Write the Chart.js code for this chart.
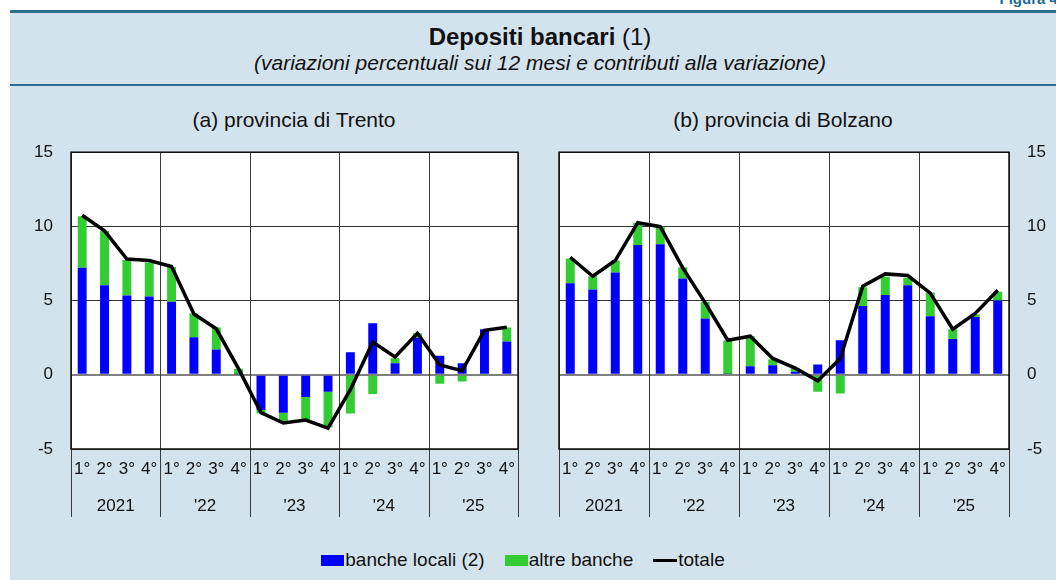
<!DOCTYPE html>
<html>
<head>
<meta charset="utf-8">
<script src="https://cdn.jsdelivr.net/npm/chart.js@4.4.1/dist/chart.umd.min.js"></script>
<style>
  html, body { margin:0; padding:0; }
  body { width:1056px; height:580px; position:relative; overflow:hidden; background:#fff;
         font-family:"Liberation Sans", Arial, sans-serif; color:#111; }
  .abs { position:absolute; }
  #panel { left:10px; top:10px; width:1046px; height:570px; background:#d3e3ed; }
  .rule { left:10px; width:1046px; background:#2d6d8d; }
  #fig { right:-6px; top:-10px; font-weight:bold; font-size:15px; color:#1d6c98; }
  #title { left:0; width:1080px; top:23px; text-align:center; font-size:24px; line-height:28px; }
  #subtitle { left:0; width:1080px; top:51px; text-align:center; font-size:21px; line-height:24px; font-style:italic; }
  .ptitle { top:108px; font-size:21px; line-height:24px; text-align:center; width:400px; }
  #legend { left:0; width:1046px; top:549px; display:flex; justify-content:center; align-items:center; font-size:19px; }
  .sw { display:inline-block; width:23px; height:11px; margin-right:1px; }
  .ln { display:inline-block; width:24px; height:3px; background:#000; margin-right:1px; }
  .item { display:flex; align-items:center; margin:0 10px; }
</style>
</head>
<body>
<div id="panel" class="abs"></div>
<div class="abs rule" style="top:10px;height:3px;"></div>
<div class="abs rule" style="top:84px;height:2px;"></div>
<div id="fig" class="abs">Figura 4.</div>
<div id="title" class="abs"><b>Depositi bancari</b> (1)</div>
<div id="subtitle" class="abs">(variazioni percentuali sui 12 mesi e contributi alla variazione)</div>
<div class="abs ptitle" style="left:94px;">(a) provincia di Trento</div>
<div class="abs ptitle" style="left:583px;">(b) provincia di Bolzano</div>
<canvas id="c1" class="abs" style="left:20px;top:124px;" width="510" height="406"></canvas>
<canvas id="c2" class="abs" style="left:540px;top:124px;" width="516" height="406"></canvas>
<div id="legend" class="abs">
  <div class="item"><span class="sw" style="background:#0000ff"></span>banche locali (2)</div>
  <div class="item"><span class="sw" style="background:#33cc33"></span>altre banche</div>
  <div class="item"><span class="ln"></span>totale</div>
</div>
<script>
// ---- data ----
const quarters = ['1°','2°','3°','4°','1°','2°','3°','4°','1°','2°','3°','4°','1°','2°','3°','4°','1°','2°','3°','4°'];
const years = ['2021', "'22", "'23", "'24", "'25"];
const yTicks = [-5, 0, 5, 10, 15];

const trentoLocali = [7.22, 6.03, 5.34, 5.27, 4.93, 2.53, 1.70, 0.03, -2.38, -2.56, -1.50, -1.14, 1.52, 3.48, 0.78, 2.50, 1.28, 0.78, 3.07, 2.24];
const trentoAltre  = [3.46, 3.66, 2.40, 2.29, 2.34, 1.60, 1.48, 0.37, -0.22, -0.60, -1.60, -2.40, -2.60, -1.30, 0.34, 0.30, -0.60, -0.45, -0.08, 0.94];
const trentoTotale = [10.75, 9.70, 7.80, 7.70, 7.30, 4.10, 3.10, 0.40, -2.55, -3.25, -3.05, -3.60, -1.00, 2.20, 1.20, 2.80, 0.67, 0.27, 3.00, 3.20];

const bolzanoLocali = [6.17, 5.75, 6.89, 8.75, 8.79, 6.49, 3.80, 0.05, 0.58, 0.65, 0.20, 0.70, 2.33, 4.63, 5.37, 6.04, 3.94, 2.42, 3.89, 5.00];
const bolzanoAltre  = [1.66, 0.89, 0.81, 1.50, 1.19, 0.76, 1.10, 2.26, 2.02, 0.40, 0.25, -1.14, -1.26, 1.27, 1.23, 0.50, 1.61, 0.65, 0.18, 0.60];
const bolzanoTotale = [7.92, 6.64, 7.70, 10.25, 9.98, 7.20, 4.85, 2.33, 2.60, 1.10, 0.45, -0.40, 1.10, 5.97, 6.80, 6.69, 5.50, 3.07, 4.14, 5.70];

const BLUE = '#0000ff', GREEN = '#33cc33';
const FONT = "'Liberation Sans', Arial, sans-serif";
const CANVAS_TOP = 124;
const SEPARATOR_BOTTOM = 517; // page y where the year separators end

const framePlugin = {
  id: 'frame',
  beforeDraw(chart) {
    const a = chart.chartArea, c = chart.ctx;
    c.save(); c.fillStyle = '#ffffff';
    c.fillRect(a.left, a.top, a.right - a.left, a.bottom - a.top);
    c.restore();
  },
  beforeDatasetsDraw(chart) {
    const a = chart.chartArea, c = chart.ctx, xs = chart.scales.x;
    const n = xs.getLabels().length;
    const half = (xs.getPixelForValue(1) - xs.getPixelForValue(0)) / 2;
    const bottom = SEPARATOR_BOTTOM - CANVAS_TOP;
    c.save();
    c.strokeStyle = '#3a3a3a'; c.lineWidth = 1;
    for (let i = 0; i <= n; i += 4) {
      let x = (i < n) ? xs.getPixelForValue(i) - half : xs.getPixelForValue(n - 1) + half;
      x = Math.round(x) + 0.5;
      c.beginPath(); c.moveTo(x, a.top); c.lineTo(x, bottom); c.stroke();
    }
    c.strokeStyle = '#111'; c.lineWidth = 1.5;
    c.strokeRect(a.left, a.top, a.right - a.left, a.bottom - a.top);
    c.restore();
  }
};

function makeChart(id, locali, altre, totale, side) {
  const left = side === 'left';
  return new Chart(document.getElementById(id), {
    type: 'bar',
    data: {
      labels: quarters,
      datasets: [
        { type: 'line', label: 'totale', data: totale, borderColor: '#000', borderWidth: 3.5,
          pointRadius: 0, tension: 0, fill: false, stack: 'line', order: 0 },
        { label: 'banche locali (2)', data: locali, backgroundColor: BLUE, borderWidth: 0,
          stack: 'bars', order: 1, barPercentage: 0.4, categoryPercentage: 1 },
        { label: 'altre banche', data: altre, backgroundColor: GREEN, borderWidth: 0,
          stack: 'bars', order: 2, barPercentage: 0.4, categoryPercentage: 1 }
      ]
    },
    options: {
      responsive: false, animation: false, devicePixelRatio: 1,
      layout: { padding: left ? { left: 0, right: 12, top: 0, bottom: 0 } : { left: 19, right: 0, top: 0, bottom: 0 } },
      plugins: { legend: { display: false }, tooltip: { enabled: false } },
      scales: {
        x: {
          stacked: true, offset: true,
          grid: { display: false, drawTicks: false },
          border: { display: false },
          ticks: { autoSkip: false, maxRotation: 0, minRotation: 0, padding: 10,
                   color: '#111', font: { family: FONT, size: 17 } },
          afterFit(s) { s.height = 36; }
        },
        x2: {
          type: 'category', labels: years, position: 'bottom', offset: true,
          grid: { display: false, drawTicks: false },
          border: { display: false },
          ticks: { autoSkip: false, maxRotation: 0, padding: 11,
                   color: '#111', font: { family: FONT, size: 17 } },
          afterFit(s) { s.height = 45; }
        },
        y: {
          stacked: true, position: left ? 'left' : 'right',
          min: -5, max: 15,
          afterBuildTicks(s) { s.ticks = yTicks.map(v => ({ value: v })); },
          grid: {
            drawTicks: false,
            color: ctx => (ctx.tick && ctx.tick.value === 0) ? '#808080' : '#333',
            lineWidth: ctx => (ctx.tick && ctx.tick.value === 0) ? 2 : 1
          },
          border: { display: false },
          ticks: { padding: 18, color: '#111', font: { family: FONT, size: 17 } },
          afterFit(s) { s.width = left ? 51 : 47; }
        }
      }
    },
    plugins: [framePlugin]
  });
}

makeChart('c1', trentoLocali, trentoAltre, trentoTotale, 'left');
makeChart('c2', bolzanoLocali, bolzanoAltre, bolzanoTotale, 'right');
</script>
</body>
</html>
